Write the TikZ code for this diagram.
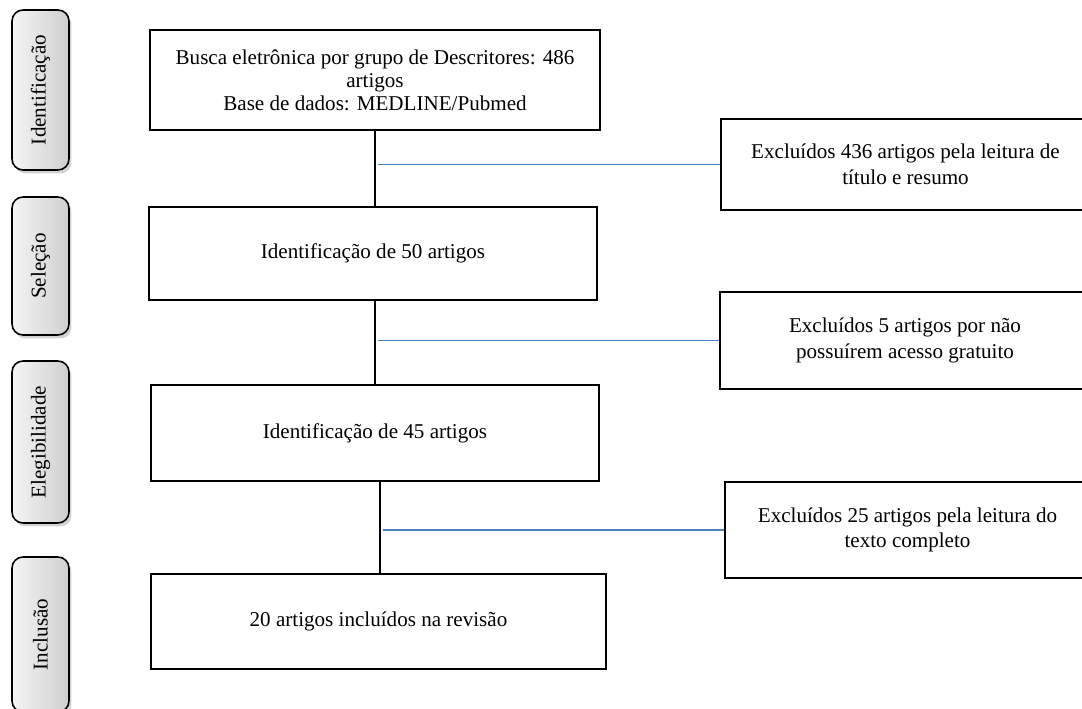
\documentclass[tikz,border=0pt]{standalone}
\usepackage{fontspec}
\setmainfont{Liberation Serif}
\usetikzlibrary{positioning,shadows}
\definecolor{linkblue}{HTML}{4F81BD}

\begin{document}
\begin{tikzpicture}[x=0.02cm,y=-0.02cm,
  box/.style={draw=black,line width=1.3pt,align=center,inner sep=2pt,font=\fontsize{12}{14.5}\selectfont},
  stage/.style={draw=black,line width=0.9pt,rounded corners=0.22cm,left color=gray!8,right color=gray!38,minimum width=1.14cm,inner sep=0pt,font=\fontsize{12}{14.5}\selectfont,drop shadow={shadow xshift=0.05cm,shadow yshift=-0.07cm,opacity=0.35}},
  link/.style={draw=black,line width=0.9pt},
  blueline/.style={draw=linkblue,line width=1pt}]
\useasboundingbox (0,0) rectangle (1082,709);
% stage tabs
\node[stage,minimum height=3.2cm] (tabid) at (40.5,90) {\rotatebox{90}{Identificação}};
\node[stage,minimum height=2.76cm] (tabsel) at (40.5,266) {\rotatebox{90}{Seleção}};
\node[stage,minimum height=3.24cm] (tabele) at (40.5,442) {\rotatebox{90}{Elegibilidade}};
\node[stage,minimum height=3.1cm] (tabinc) at (40.5,634.5) {\rotatebox{90}{Inclusão}};
% main column
\node[box,font=\fontsize{12}{13}\selectfont,minimum width=9cm,minimum height=2cm] (busca) at (375,80) {Busca eletrônica por grupo de Descritores: 486\\artigos\\Base de dados: MEDLINE/Pubmed};
\node[box,minimum width=8.96cm,minimum height=1.86cm] (sel) at (373,253.5) {Identificação de 50 artigos};
\node[box,minimum width=8.96cm,minimum height=1.92cm] (eleg) at (375,433) {Identificação de 45 artigos};
\node[box,minimum width=9.1cm,minimum height=1.9cm] (incl) at (378.5,621.5) {20 artigos incluídos na revisão};
% exclusions
\node[box,minimum width=7.38cm,minimum height=1.82cm] (exc1) at (905.5,164.5) {Excluídos 436 artigos pela leitura de\\título e resumo};
\node[box,minimum width=7.4cm,minimum height=1.94cm] (exc2) at (905,340.5) {Excluídos 5 artigos por não\\possuírem acesso gratuito};
\node[box,minimum width=7.3cm,minimum height=1.92cm] (exc3) at (907.5,530) {Excluídos 25 artigos pela leitura do\\texto completo};
% connectors
\draw[link] (busca.south) -- (busca.south |- sel.north);
\draw[link] ([xshift=0.04cm]sel.south) -- ([xshift=0.04cm]sel.south |- eleg.north);
\draw[link] ([xshift=0.1cm]eleg.south) -- ([xshift=0.1cm]eleg.south |- incl.north);
\draw[blueline] (exc1.west) -- ([xshift=0.06cm]exc1.west -| busca.south);
\draw[blueline] (exc2.west) -- ([xshift=0.1cm]exc2.west -| sel.south);
\draw[blueline] (exc3.west) -- ([xshift=0.16cm]exc3.west -| eleg.south);
\end{tikzpicture}
\end{document}
